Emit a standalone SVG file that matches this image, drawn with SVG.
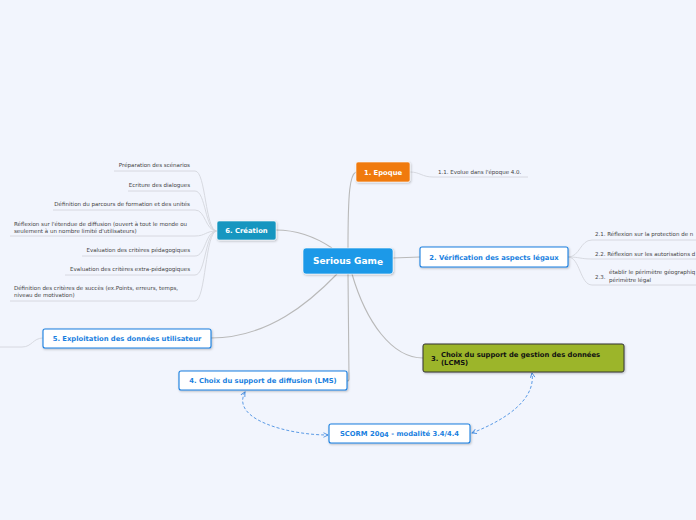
<svg xmlns="http://www.w3.org/2000/svg" width="696" height="520" viewBox="0 0 696 520">
<defs>
<filter id="sh" x="-10%" y="-20%" width="130%" height="160%">
<feDropShadow dx="0.8" dy="1" stdDeviation="0.8" flood-color="#000" flood-opacity="0.25"/>
</filter>
<marker id="ar" viewBox="0 0 8 8" refX="7" refY="4" markerWidth="6" markerHeight="6" orient="auto-start-reverse" markerUnits="userSpaceOnUse">
<path d="M1,1 L7,4 L1,7" fill="none" stroke="#4a90e2" stroke-width="1.2"/>
</marker>
<style>
.bg{fill:#f2f5fd}
.main{fill:none;stroke:#b9b9b9;stroke-width:1.1}
.sub{fill:none;stroke:#d4d6dc;stroke-width:0.9}
.rel{fill:none;stroke:#4a90e2;stroke-width:0.9;stroke-dasharray:3 2}
.t{font-family:"DejaVu Sans",Verdana,sans-serif;font-size:5.5px;fill:#444}
.nt{font-family:"DejaVu Sans",Verdana,sans-serif;font-size:6.8px;font-weight:bold}
.w{fill:#fff}
.b{fill:#1a7fe0}
.wn{fill:#fff;stroke:#1a7fe0;stroke-width:1.1}
</style>
</defs>
<rect class="bg" x="0" y="0" width="696" height="520"/>

<g id="connectors">
<path class="main" d="M356,172 C350,175 348,190 348,248"/>
<path class="main" d="M393,258 L420,257"/>
<path class="main" d="M352,274 C366,322 392,358 423,358"/>
<path class="main" d="M348,274 L349,379 Q349,381 347,381"/>
<path class="main" d="M211,338 C268,338 310,302 337,274"/>
<path class="main" d="M276,230 C300,230 320,240 332,248"/>
<path class="sub" d="M410,172 C420,172 422,177 433,177 L528,177"/>
<path class="sub" d="M568,257 C580,257 580,240 592,240 L696,240"/>
<path class="sub" d="M568,257 C580,257 580,259 592,259 L696,259"/>
<path class="sub" d="M568,257 C580,257 580,285 592,285 L696,285"/>
<path class="sub" d="M217,231 C205,231 206,171 195,171 L114,171"/>
<path class="sub" d="M217,231 C205,231 206,191 195,191 L128,191"/>
<path class="sub" d="M217,231 C205,231 206,210 195,210 L53,210"/>
<path class="sub" d="M217,231 C205,231 206,236 195,236 L10,236"/>
<path class="sub" d="M217,231 C205,231 206,256 195,256 L82,256"/>
<path class="sub" d="M217,231 C205,231 206,275 195,275 L65,275"/>
<path class="sub" d="M217,231 C205,231 206,301 195,301 L10,301"/>
<path class="sub" d="M43,338 C33,338 32,347 22,347 L0,347"/>
<path class="rel" d="M245,392 C230,420 290,435 328,435" marker-start="url(#ar)" marker-end="url(#ar)"/>
<path class="rel" d="M472,433 C505,420 536,400 532,373" marker-start="url(#ar)" marker-end="url(#ar)"/>
</g>

<g id="n0">
<rect x="303" y="248" width="90" height="26" rx="3" fill="#1a99e8" stroke="#fff" stroke-width="0.6" filter="url(#sh)"/>
<text x="348" y="264" text-anchor="middle" font-family="DejaVu Sans,Verdana,sans-serif" font-size="9px" font-weight="bold" fill="#fff">Serious Gam<tspan dy="0.8">e</tspan></text>
</g>

<g id="n1">
<rect x="356" y="162" width="54" height="20" rx="2" fill="#f07a0f" stroke="#fff" stroke-width="0.6" filter="url(#sh)"/>
<text class="nt w" x="383" y="174.5" text-anchor="middle">1. Epoque</text>
</g>
<g id="n1-1"><text class="t" x="438" y="174">1.1.  Evolue dans l'époque 4.0.</text></g>

<g id="n2">
<rect class="wn" x="420" y="247" width="148" height="20" rx="2" filter="url(#sh)"/>
<text class="nt b" x="494" y="259.5" text-anchor="middle">2. Vérification des aspects légaux</text>
</g>
<g id="n2-1"><text class="t" x="595" y="236">2.1.  Réflexion sur la protection de n</text></g>
<g id="n2-2"><text class="t" x="595" y="255.5">2.2.  Réflexion sur les autorisations d</text></g>
<g id="n2-3"><text class="t" x="595" y="279">2.3.</text><text class="t" x="609" y="274">établir le périmètre géographiq</text><text class="t" x="609" y="282">périmètre légal</text></g>

<g id="n3">
<rect x="423" y="344" width="201" height="28" rx="2" fill="#9cb52a" stroke="#333" stroke-width="1" filter="url(#sh)"/>
<text class="nt" x="431" y="361" fill="#111">3.</text>
<text class="nt" x="441" y="356.5" fill="#111">Choix du support de gestion des données</text>
<text class="nt" x="441" y="364.5" fill="#111">(LCMS)</text>
</g>

<g id="n4">
<rect class="wn" x="179" y="371" width="168" height="19" rx="2" filter="url(#sh)"/>
<text class="nt b" x="263" y="383.3" text-anchor="middle">4. Choix du support de diffusion (LMS)</text>
</g>

<g id="n5">
<rect class="wn" x="43" y="329" width="168" height="19" rx="2" filter="url(#sh)"/>
<text class="nt b" x="127" y="341.3" text-anchor="middle">5. Exploitation des données utilisateur</text>
</g>

<g id="n6">
<rect x="217" y="221" width="59" height="19" rx="2" fill="#1596c0" stroke="#fff" stroke-width="0.6" filter="url(#sh)"/>
<text class="nt w" x="246.5" y="233.3" text-anchor="middle">6. Création</text>
</g>
<g id="n6-1"><text class="t" x="190" y="167" text-anchor="end">Préparation des scénarios</text></g>
<g id="n6-2"><text class="t" x="190" y="187" text-anchor="end">Ecriture des dialogues</text></g>
<g id="n6-3"><text class="t" x="190" y="206" text-anchor="end">Définition du parcours de formation et des unités</text></g>
<g id="n6-4"><text class="t" x="14" y="226">Réflexion sur l'étendue de diffusion (ouvert à tout le monde ou</text><text class="t" x="14" y="232.5">seulement à un nombre limité d'utilisateurs)</text></g>
<g id="n6-5"><text class="t" x="190" y="252" text-anchor="end">Evaluation des critères pédagogiques</text></g>
<g id="n6-6"><text class="t" x="190" y="271" text-anchor="end">Evaluation des critères extra-pédagogiques</text></g>
<g id="n6-7"><text class="t" x="14" y="290">Définition des critères de succès (ex.Points, erreurs, temps,</text><text class="t" x="14" y="297">niveau de motivation)</text></g>

<g id="n7">
<rect class="wn" x="329" y="424" width="141" height="19" rx="2" filter="url(#sh)"/>
<text class="nt b" x="399.5" y="436.3" text-anchor="middle">SCORM 20<tspan dy="0.8">04</tspan><tspan dy="-0.8"> - modalité 3.4/4.4</tspan></text>
</g>
</svg>
